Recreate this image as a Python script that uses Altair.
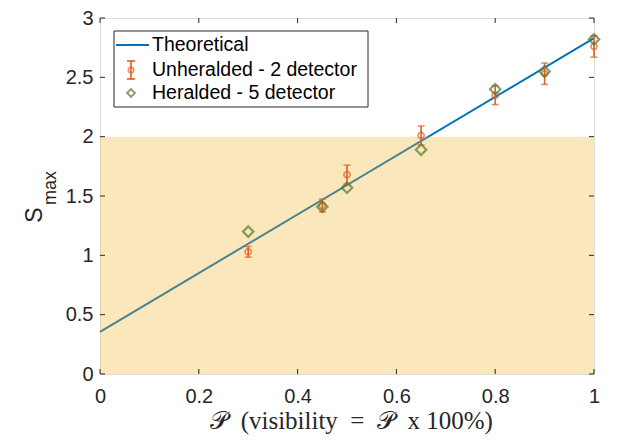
import altair as alt
import pandas as pd

# ---- data ----
theory_p = [0.0, 1.0]
theory_s = [0.355, 2.83]

shade_x = [0.0, 1.0]
shade_y = [0.0, 2.0]

unher_p = [0.3, 0.45, 0.5, 0.65, 0.8, 0.9, 1.0]
unher_s = [1.03, 1.42, 1.68, 2.01, 2.35, 2.53, 2.76]
unher_err = [0.045, 0.055, 0.08, 0.08, 0.08, 0.09, 0.09]

her_p = [0.3, 0.45, 0.5, 0.65, 0.8, 0.9, 1.0]
her_s = [1.20, 1.41, 1.57, 1.89, 2.40, 2.55, 2.82]

x_ticks = [0, 0.2, 0.4, 0.6, 0.8, 1]
y_ticks = [0, 0.5, 1, 1.5, 2, 2.5, 3]

legend_labels = ["Theoretical", "Unheralded - 2 detector", "Heralded - 5 detector"]
x_title = "𝒫\u2002(visibility\u2002=\u2002𝒫\u2002x 100%)"
y_title_main = "S"
y_title_sub = "max"

# ---- styling ----
W, H = 494, 356
BLUE = "#0072BD"
ORANGE = "#DF5E22"
GREEN = "#577A2B"
SHADE = "#EDB120"
AX = "#262626"

xs = alt.Scale(domain=[0, 1], nice=False, zero=False)
ys = alt.Scale(domain=[0, 3], nice=False, zero=False)

theory_df = pd.DataFrame({"p": theory_p, "s": theory_s})
shade_df = pd.DataFrame({"x": [shade_x[0]], "x2": [shade_x[1]], "y": [shade_y[0]], "y2": [shade_y[1]]})
unher_df = pd.DataFrame({"p": unher_p, "s": unher_s, "e": unher_err})
unher_df["lo"] = unher_df["s"] - unher_df["e"]
unher_df["hi"] = unher_df["s"] + unher_df["e"]
her_df = pd.DataFrame({"p": her_p, "s": her_s})
xt_df = pd.DataFrame({"v": x_ticks})
yt_df = pd.DataFrame({"v": y_ticks})
one = pd.DataFrame({"a": [0]})

x_axis = alt.Axis(values=x_ticks, format="~g", title=x_title, grid=False, domain=False, ticks=False,
                  labelFlush=False, labelPadding=12, labelFont="Liberation Sans", labelFontSize=20,
                  labelColor=AX, titleFont="Liberation Serif", titleFontSize=25,
                  titleFontWeight="normal", titleColor=AX, titlePadding=2, titleX=251)
y_axis = alt.Axis(values=y_ticks, format="~g", title=None, grid=False, domain=False, ticks=False,
                  labelFlush=False, labelPadding=7, labelFont="Liberation Sans", labelFontSize=20,
                  labelColor=AX)

line = alt.Chart(theory_df).mark_line(color=BLUE, strokeWidth=2).encode(
    x=alt.X("p:Q", scale=xs, axis=x_axis),
    y=alt.Y("s:Q", scale=ys, axis=y_axis),
)

shade = alt.Chart(shade_df).mark_rect(color=SHADE, opacity=0.3).encode(
    x=alt.X("x:Q", scale=xs), x2="x2", y=alt.Y("y:Q", scale=ys), y2="y2"
)

ebar = alt.Chart(unher_df).mark_rule(color=ORANGE, strokeWidth=1.6).encode(
    x=alt.X("p:Q", scale=xs), y=alt.Y("lo:Q", scale=ys), y2="hi"
)
cap_lo = alt.Chart(unher_df).mark_tick(color=ORANGE, orient="horizontal", size=7, thickness=1.6).encode(
    x=alt.X("p:Q", scale=xs), y=alt.Y("lo:Q", scale=ys)
)
cap_hi = alt.Chart(unher_df).mark_tick(color=ORANGE, orient="horizontal", size=7, thickness=1.6).encode(
    x=alt.X("p:Q", scale=xs), y=alt.Y("hi:Q", scale=ys)
)
circ = alt.Chart(unher_df).mark_point(shape="circle", color=ORANGE, size=38, strokeWidth=1.6, filled=False).encode(
    x=alt.X("p:Q", scale=xs), y=alt.Y("s:Q", scale=ys)
)
diam = alt.Chart(her_df).mark_point(shape="diamond", color=GREEN, size=110, strokeWidth=2.2, filled=False).encode(
    x=alt.X("p:Q", scale=xs), y=alt.Y("s:Q", scale=ys)
)

TL = 5
tick_b = alt.Chart(xt_df).mark_rule(color=AX, strokeWidth=1).encode(
    x=alt.X("v:Q", scale=xs), y=alt.value(H), y2=alt.value(H - TL))
tick_t = alt.Chart(xt_df).mark_rule(color=AX, strokeWidth=1).encode(
    x=alt.X("v:Q", scale=xs), y=alt.value(0), y2=alt.value(TL))
tick_l = alt.Chart(yt_df).mark_rule(color=AX, strokeWidth=1).encode(
    y=alt.Y("v:Q", scale=ys), x=alt.value(0), x2=alt.value(TL))
tick_r = alt.Chart(yt_df).mark_rule(color=AX, strokeWidth=1).encode(
    y=alt.Y("v:Q", scale=ys), x=alt.value(W - TL), x2=alt.value(W))

# legend (manual, MATLAB style)
LX0, LX1, LY0, LY1 = 14, 268, 13, 89
rows_y = [27, 52, 75]
sym_x = 31
txt_x = 52
leg_box = alt.Chart(one).mark_rect(fill="white", stroke=AX, strokeWidth=1).encode(
    x=alt.value(LX0), x2=alt.value(LX1), y=alt.value(LY0), y2=alt.value(LY1))
leg_line = alt.Chart(one).mark_rule(color=BLUE, strokeWidth=2).encode(
    x=alt.value(16), x2=alt.value(49), y=alt.value(rows_y[0]))
leg_eb = alt.Chart(one).mark_rule(color=ORANGE, strokeWidth=1.6).encode(
    x=alt.value(sym_x), y=alt.value(rows_y[1] - 9), y2=alt.value(rows_y[1] + 9))
leg_cap1 = alt.Chart(one).mark_rule(color=ORANGE, strokeWidth=1.6).encode(
    x=alt.value(sym_x - 4), x2=alt.value(sym_x + 4), y=alt.value(rows_y[1] - 9))
leg_cap2 = alt.Chart(one).mark_rule(color=ORANGE, strokeWidth=1.6).encode(
    x=alt.value(sym_x - 4), x2=alt.value(sym_x + 4), y=alt.value(rows_y[1] + 9))
leg_circ = alt.Chart(one).mark_point(shape="circle", color=ORANGE, size=30, strokeWidth=1.6, filled=False).encode(
    x=alt.value(sym_x), y=alt.value(rows_y[1]))
leg_diam = alt.Chart(one).mark_point(shape="diamond", color=GREEN, size=60, strokeWidth=2, filled=False).encode(
    x=alt.value(sym_x), y=alt.value(rows_y[2]))
leg_txt = [
    alt.Chart(one).mark_text(text=lab, align="left", baseline="middle", font="Liberation Sans",
                             fontSize=19.5, color="black").encode(x=alt.value(txt_x), y=alt.value(yy))
    for lab, yy in zip(legend_labels, rows_y)
]

# y title S_max
yt_main = alt.Chart(one).mark_text(text=y_title_main, angle=270, align="center", baseline="middle",
                                   font="Liberation Sans", fontSize=23, color=AX).encode(
    x=alt.value(-65), y=alt.value(197))
yt_sub = alt.Chart(one).mark_text(text=y_title_sub, angle=270, align="center", baseline="middle",
                                  font="Liberation Sans", fontSize=18, color=AX).encode(
    x=alt.value(-49), y=alt.value(170))

chart = alt.layer(
    line, shade, ebar, cap_lo, cap_hi, circ, diam,
    tick_b, tick_t, tick_l, tick_r,
    leg_box, leg_line, leg_eb, leg_cap1, leg_cap2, leg_circ, leg_diam, *leg_txt,
    yt_main, yt_sub,
).properties(
    width=W, height=H,
    autosize=alt.AutoSizeParams(type="none"),
    padding={"left": 92, "top": 10, "right": 26, "bottom": 62},
).configure_view(stroke=AX, strokeWidth=1).configure(background="white")

chart.save("out.html", embed_options={"renderer": "svg", "actions": False})
